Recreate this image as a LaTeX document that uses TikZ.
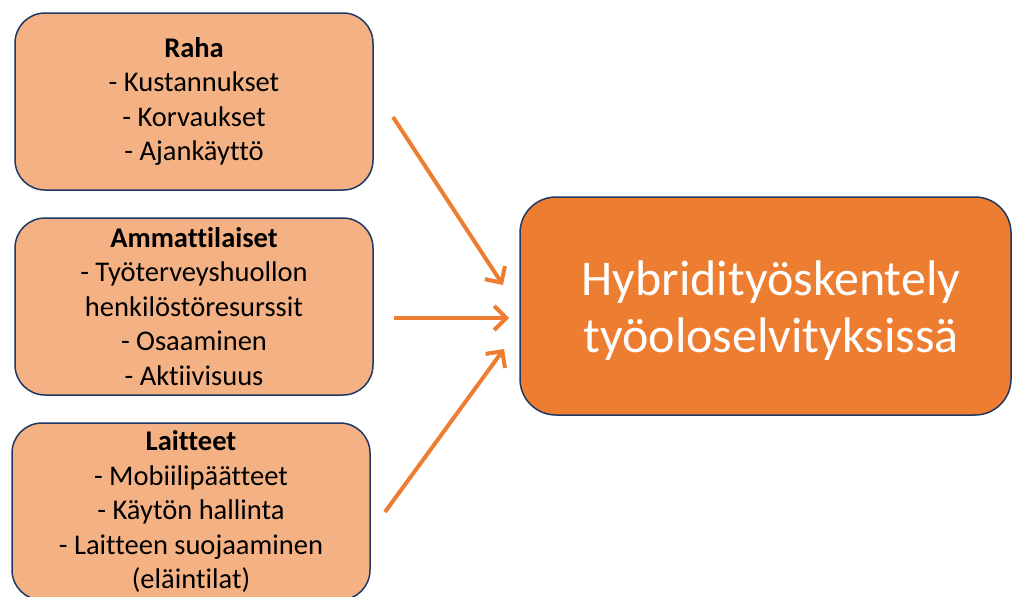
\documentclass[tikz,border=0pt]{standalone}
\usepackage{fontspec}
\setmainfont[Ligatures=NoCommon]{Carlito}
\usetikzlibrary{arrows.meta}
\definecolor{lightor}{HTML}{F4B183}
\definecolor{darkor}{HTML}{ED7D31}
\definecolor{navy}{HTML}{203864}
\tikzset{
  srcbox/.style={draw=navy, line width=1.5pt, fill=lightor, rounded corners=30pt,
    minimum width=358pt, minimum height=177pt, inner sep=0pt, align=center,
    font=\fontsize{28.5}{34.5}\selectfont, text=black},
  bigbox/.style={draw=navy, line width=1.5pt, fill=darkor, rounded corners=36pt,
    minimum width=491pt, minimum height=218pt, inner sep=0pt},
  bigtext/.style={align=center, inner sep=0pt, font=\fontsize{50}{57}\selectfont, text=white},
  arr/.style={draw=darkor, line width=4pt, -{Straight Barb[length=12pt,width=24pt,line width=4pt]}}
}
\begin{document}
\begin{tikzpicture}[x=1pt,y=-1pt]
\useasboundingbox (0,0) rectangle (1012,597);
\begin{scope}
\clip (0,0) rectangle (1012,597);
\node[srcbox] (raha) at (194,101.5) {\textbf{Raha}\\- Kustannukset\\- Korvaukset\\- Ajankäyttö};
\node[srcbox] (amm) at (194,306.5) {\textbf{Ammattilaiset}\\- Työterveyshuollon\\henkilöstöresurssit\\- Osaaminen\\- Aktiivisuus};
\node[srcbox] (lait) at (191,511.5) {\textbf{Laitteet}\\- Mobiilipäätteet\\- Käytön hallinta\\- Laitteen suojaaminen\\(eläintilat)};
\node[bigbox] (hyb) at (765.5,306) {};
\node[bigtext] (hybt) at (771,311) {Hybridityöskentely\\työoloselvityksissä};
\end{scope}
\coordinate (a1s) at (393,117);
\coordinate (a1e) at (503,285);
\coordinate (a2s) at (394,318);
\coordinate (a2e) at (509,318);
\coordinate (a3s) at (385,512);
\coordinate (a3e) at (504,349);
\draw[arr] (a1s) -- (a1e);
\draw[arr] (a2s) -- (a2e);
\draw[arr] (a3s) -- (a3e);
\end{tikzpicture}
\end{document}
